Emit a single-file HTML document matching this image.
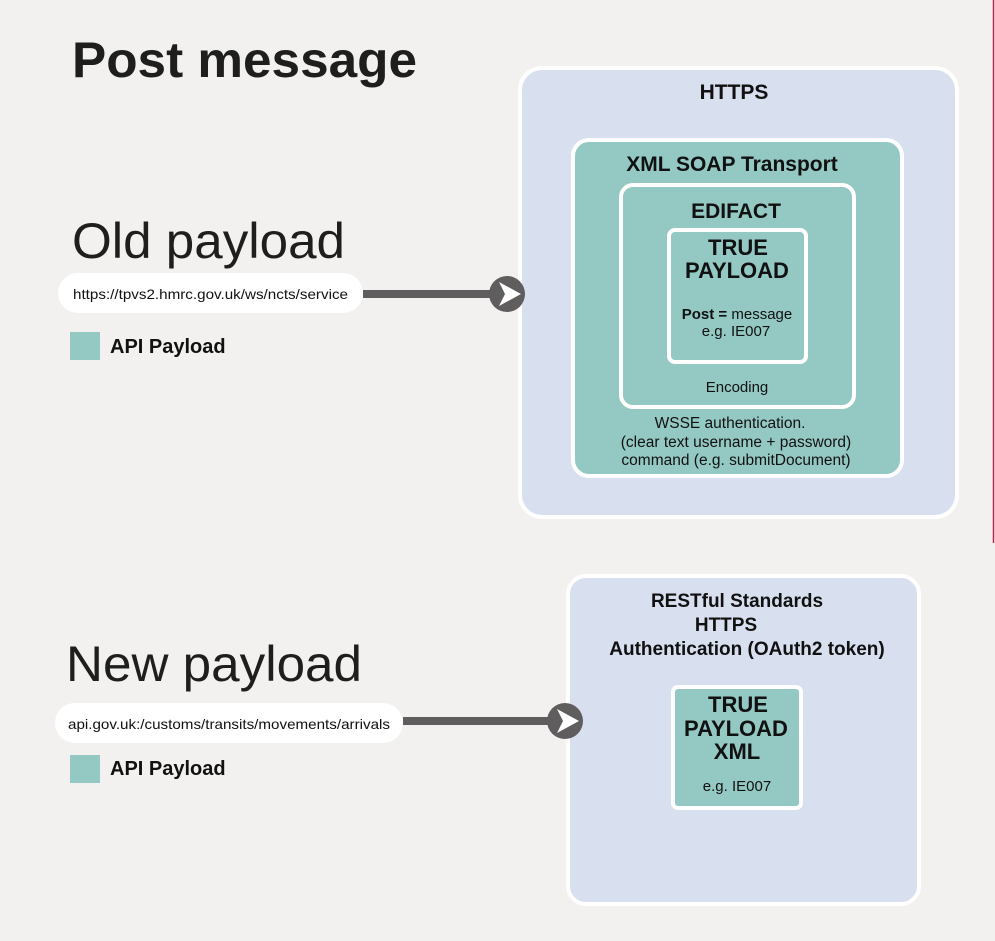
<!DOCTYPE html>
<html><head><meta charset="utf-8"><style>
html,body{margin:0;padding:0;background:#f2f1ef;}
svg{display:block;font-family:"Liberation Sans",Arial,sans-serif;}
</style></head><body>
<svg width="995" height="941" viewBox="0 0 995 941" xmlns="http://www.w3.org/2000/svg">
<rect width="995" height="941" fill="#f2f1ef"/>
<line x1="993.5" y1="0" x2="993.5" y2="543" stroke="#c0264a" stroke-width="1.5"/>

<text x="72" y="77" font-size="50" font-weight="bold" fill="#1e1e1c" textLength="345" lengthAdjust="spacingAndGlyphs">Post message</text>

<!-- Old -->
<text x="72" y="258" font-size="50" fill="#1e1e1c" textLength="273" lengthAdjust="spacingAndGlyphs">Old payload</text>
<rect x="58" y="273" width="305" height="40" rx="20" fill="#fff"/>
<text x="73" y="299" font-size="14" fill="#111" textLength="275" lengthAdjust="spacingAndGlyphs">https://tpvs2.hmrc.gov.uk/ws/ncts/service</text>
<rect x="363" y="290" width="140" height="8" fill="#5f5d5d"/>
<rect x="70" y="332" width="30" height="28" fill="#94c9c3"/>
<text x="110" y="353" font-size="20" font-weight="bold" fill="#111">API Payload</text>

<rect x="520" y="68" width="437" height="449" rx="22" fill="#d8e0ef" stroke="#fff" stroke-width="4"/>
<text x="734" y="99" font-size="21" font-weight="bold" text-anchor="middle" fill="#111">HTTPS</text>
<rect x="573" y="140" width="329" height="336" rx="16" fill="#94c9c3" stroke="#fff" stroke-width="4"/>
<text x="732" y="171" font-size="21" font-weight="bold" text-anchor="middle" fill="#111">XML SOAP Transport</text>
<rect x="621" y="185" width="233" height="222" rx="12" fill="#94c9c3" stroke="#fff" stroke-width="4"/>
<text x="736" y="218" font-size="21" font-weight="bold" text-anchor="middle" fill="#111">EDIFACT</text>
<rect x="669" y="230" width="137" height="132" rx="6" fill="#94c9c3" stroke="#fff" stroke-width="4"/>
<text x="738" y="255" font-size="22" font-weight="bold" text-anchor="middle" fill="#111">TRUE</text>
<text x="737" y="278" font-size="22" font-weight="bold" text-anchor="middle" fill="#111">PAYLOAD</text>
<text x="737" y="319" font-size="15" text-anchor="middle" fill="#111"><tspan font-weight="bold">Post =</tspan> message</text>
<text x="736" y="336" font-size="15" text-anchor="middle" fill="#111">e.g. IE007</text>
<text x="737" y="392" font-size="15" text-anchor="middle" fill="#111">Encoding</text>
<text x="730" y="428" font-size="15.5" text-anchor="middle" fill="#111">WSSE authentication.</text>
<text x="736" y="447" font-size="15.5" text-anchor="middle" fill="#111">(clear text username + password)</text>
<text x="736" y="465" font-size="15.5" text-anchor="middle" fill="#111">command (e.g. submitDocument)</text>

<circle cx="507" cy="294" r="18" fill="#5f5d5d"/>
<polygon points="499,282 521,294 499,306 505,294" fill="#fff"/>

<!-- New -->
<text x="66" y="681" font-size="50" fill="#1e1e1c" textLength="296" lengthAdjust="spacingAndGlyphs">New payload</text>
<rect x="55" y="703" width="348" height="40" rx="20" fill="#fff"/>
<text x="68" y="729" font-size="14" fill="#111" textLength="322" lengthAdjust="spacingAndGlyphs">api.gov.uk:/customs/transits/movements/arrivals</text>
<rect x="403" y="717" width="146" height="8" fill="#5f5d5d"/>
<rect x="70" y="755" width="30" height="28" fill="#94c9c3"/>
<text x="110" y="775" font-size="20" font-weight="bold" fill="#111">API Payload</text>

<rect x="568" y="576" width="351" height="328" rx="18" fill="#d8e0ef" stroke="#fff" stroke-width="4"/>
<text x="737" y="607" font-size="19" font-weight="bold" text-anchor="middle" fill="#111">RESTful Standards</text>
<text x="726" y="631" font-size="19" font-weight="bold" text-anchor="middle" fill="#111">HTTPS</text>
<text x="747" y="655" font-size="19" font-weight="bold" text-anchor="middle" fill="#111">Authentication (OAuth2 token)</text>
<rect x="673" y="687" width="128" height="121" rx="5" fill="#94c9c3" stroke="#fff" stroke-width="4"/>
<text x="738" y="712" font-size="22" font-weight="bold" text-anchor="middle" fill="#111">TRUE</text>
<text x="736" y="736" font-size="22" font-weight="bold" text-anchor="middle" fill="#111">PAYLOAD</text>
<text x="737" y="759" font-size="22" font-weight="bold" text-anchor="middle" fill="#111">XML</text>
<text x="737" y="791" font-size="15" text-anchor="middle" fill="#111">e.g. IE007</text>

<circle cx="565" cy="721" r="18" fill="#5f5d5d"/>
<polygon points="557,709 579,721 557,733 563,721" fill="#fff"/>
</svg>
</body></html>
